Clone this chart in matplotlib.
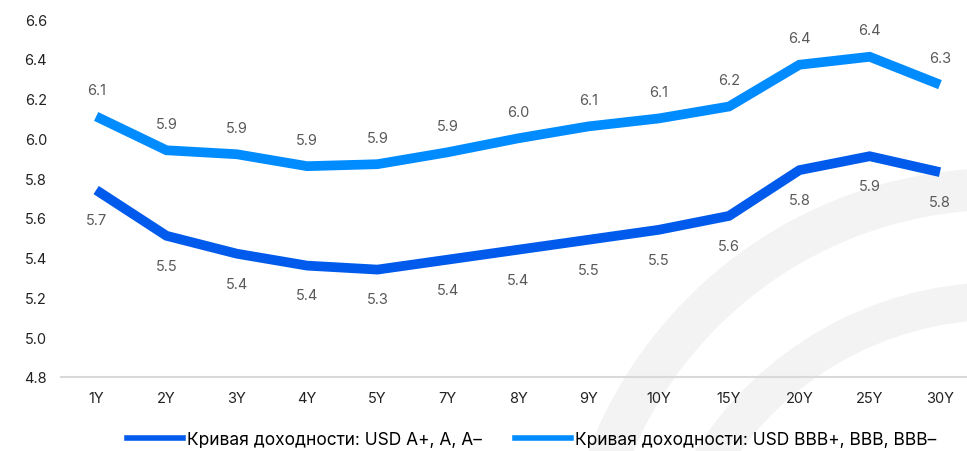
import matplotlib.pyplot as plt
from matplotlib.patches import Arc
from matplotlib.lines import Line2D

plt.rcParams['font.family'] = ['Inter', 'DejaVu Sans']

# data
tenors = ['1Y', '2Y', '3Y', '4Y', '5Y', '7Y', '8Y', '9Y', '10Y', '15Y', '20Y', '25Y', '30Y']
usd_a = [5.74, 5.51, 5.42, 5.36, 5.34, 5.39, 5.44, 5.49, 5.54, 5.61, 5.84, 5.91, 5.83]
usd_bbb = [6.11, 5.94, 5.92, 5.86, 5.87, 5.93, 6.00, 6.06, 6.10, 6.16, 6.37, 6.41, 6.27]
yticks = [4.8, 5.0, 5.2, 5.4, 5.6, 5.8, 6.0, 6.2, 6.4, 6.6]

label_a = 'Кривая доходности: USD A+, A, A–'
label_bbb = 'Кривая доходности: USD BBB+, BBB, BBB–'

dark = '#005AEB'
light = '#008CFF'

W, H = 967, 452
fig = plt.figure(figsize=(W / 100, H / 100), dpi=100)

# faint watermark swirl in the background (display pixel coords)
fig.patches.append(Arc((1000, H - 610), 840, 840, theta1=88, theta2=200,
                       color='#f3f3f3', lw=30, transform=None, zorder=-5))
fig.patches.append(Arc((1000, H - 643), 682, 682, theta1=88, theta2=200,
                       color='#f3f3f3', lw=27, transform=None, zorder=-5))

ax = fig.add_axes([61 / W, (H - 378) / H, (W - 61) / W, 358 / H])
ax.patch.set_alpha(0)

x = list(range(len(tenors)))
ax.plot(x, usd_a, color=dark, lw=7, solid_joinstyle='miter', solid_capstyle='butt')
ax.plot(x, usd_bbb, color=light, lw=7, solid_joinstyle='miter', solid_capstyle='butt')

for i in x:
    ax.annotate(f'{usd_bbb[i]:.1f}', (i, usd_bbb[i]), xytext=(0, 19), textcoords='offset points',
                ha='center', va='center', fontsize=10.5, color='#595959')
    ax.annotate(f'{usd_a[i]:.1f}', (i, usd_a[i]), xytext=(0, -21.5), textcoords='offset points',
                ha='center', va='center', fontsize=10.5, color='#595959')

ax.set_xlim(-0.5, 12 + (W - 940) / 70.3)
ax.set_ylim(4.8, 6.6)
ax.set_xticks(x)
ax.set_xticklabels(tenors)
ax.set_yticks(yticks)
ax.set_yticklabels([f'{v:.1f}' for v in yticks])
ax.tick_params(length=0, labelsize=10.5, colors='#222222')
ax.tick_params(axis='x', pad=10)
ax.tick_params(axis='y', pad=10)

for s in ['top', 'right', 'left']:
    ax.spines[s].set_visible(False)
ax.spines['bottom'].set_color('#d9d9d9')
ax.spines['bottom'].set_linewidth(1.5)

h_a = Line2D([], [], color=dark, lw=4)
h_bbb = Line2D([], [], color=light, lw=4)
fig.legend([h_a], [label_a], loc='center left', bbox_to_anchor=(127 / W, 11 / H),
           frameon=False, fontsize=12.5, handlelength=3.2, handletextpad=0.25,
           borderpad=0, borderaxespad=0)
fig.legend([h_bbb], [label_bbb], loc='center left', bbox_to_anchor=(515 / W, 11 / H),
           frameon=False, fontsize=12.5, handlelength=3.2, handletextpad=0.25,
           borderpad=0, borderaxespad=0)

fig.savefig('out.png', dpi=100)
